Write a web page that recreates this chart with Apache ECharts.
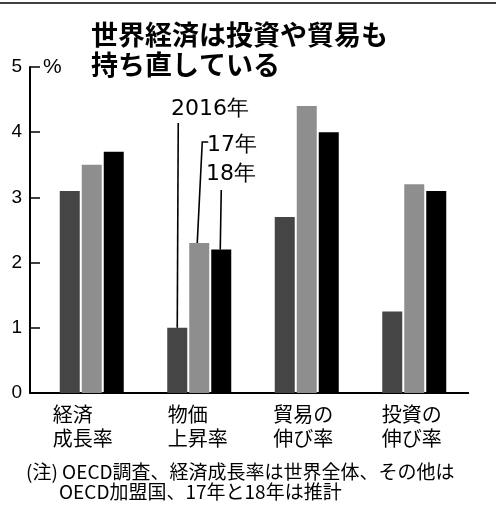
<!DOCTYPE html>
<html>
<head>
<meta charset="utf-8">
<script src="https://cdn.jsdelivr.net/npm/echarts@6/dist/echarts.min.js"></script>
<style>
  html, body { margin: 0; padding: 0; background: #fff; }
  #chart { width: 496px; height: 510px; }
</style>
</head>
<body>
<div id="chart"></div>
<script>
// Categories (two-line labels) and yearly growth rates, %
const categories = ['経済\n成長率', '物価\n上昇率', '貿易の\n伸び率', '投資の\n伸び率'];
const yearNames = ['2016年', '17年', '18年'];
const values2016 = [3.1, 1.0, 2.7, 1.25];
const values2017 = [3.5, 2.3, 4.4, 3.2];
const values2018 = [3.7, 2.2, 4.0, 3.1];
const yMin = 0;
const yMax = 5;
const yStep = 1;

const titleText = '世界経済は投資や貿易も\n持ち直している';
const noteLine1 = '(注) OECD調査、経済成長率は世界全体、その他は';
const noteLine2 = 'OECD加盟国、17年と18年は推計';

const JP = '"Noto Sans CJK JP", "Noto Sans", sans-serif';
const barWidth = 20;
const barStep = 22; // bar width plus the gap between neighbouring bars

const chart = echarts.init(document.getElementById('chart'), null, { renderer: 'canvas' });

// Per-category label shift (right padding moves the left-aligned block left)
const labelPad = [18, 3, 7, 5];
const rich = {};
labelPad.forEach((p, i) => {
  rich['c' + i] = {
    fontFamily: JP, fontSize: 20, lineHeight: 23.5, color: '#000',
    align: 'left', padding: [0, p, 0, 0]
  };
});

// Leader lines and year names pointing at the 物価上昇率 bars
function renderYearKeys(params, api) {
  const idx = 1;
  const p0 = api.coord([idx, values2016[idx]]);
  const p1 = api.coord([idx, values2017[idx]]);
  const p2 = api.coord([idx, values2018[idx]]);
  const x0 = p0[0] - barStep;
  const x1 = p1[0];
  const x2 = p2[0] + barStep;
  const line = { stroke: '#000', lineWidth: 1.6, fill: null };
  const font = { fill: '#000', fontFamily: '"DejaVu Sans", sans-serif', fontSize: 22, verticalAlign: 'middle', align: 'left' };
  return {
    type: 'group',
    children: [
      { type: 'polyline', shape: { points: [[x0, p0[1]], [x0 + 1, 123]] }, style: line },
      { type: 'polyline', shape: { points: [[x1 - 2, p1[1]], [x1 + 3, 142], [x1 + 9, 142]] }, style: line },
      { type: 'polyline', shape: { points: [[x2 - 1, p2[1]], [x2, 190]] }, style: line },
      { type: 'text', style: Object.assign({ text: yearNames[0], x: 171, y: 109 }, font) },
      { type: 'text', style: Object.assign({ text: yearNames[1], x: 207, y: 145 }, font) },
      { type: 'text', style: Object.assign({ text: yearNames[2], x: 206, y: 174 }, font) }
    ]
  };
}

const option = {
  animation: false,
  backgroundColor: '#fff',
  title: [
    {
      text: titleText, left: 91, top: 20, padding: 0,
      textStyle: { fontFamily: JP, fontSize: 27, fontWeight: 'bold', lineHeight: 30, color: '#000' }
    },
    {
      text: noteLine1, left: 26, top: 462, padding: 0,
      textStyle: { fontFamily: JP, fontSize: 19, fontWeight: 'normal', lineHeight: 20, color: '#000' }
    },
    {
      text: noteLine2, left: 59, top: 482, padding: 0,
      textStyle: { fontFamily: JP, fontSize: 19, fontWeight: 'normal', lineHeight: 20, color: '#000' }
    }
  ],
  graphic: [
    { type: 'line', shape: { x1: 0, y1: 3, x2: 496, y2: 3 }, style: { stroke: '#000', lineWidth: 1.5 } }
  ],
  grid: [
    { left: 38, right: 28, top: 67, height: 326 },
    { left: 30, right: 28, top: 67, height: 326 }
  ],
  xAxis: [
    {
      type: 'category', gridIndex: 0, data: categories,
      axisLine: { lineStyle: { color: '#000', width: 2 } },
      axisTick: { show: false },
      axisLabel: {
        interval: 0, margin: 10,
        formatter: (value, index) => value.split('\n').map(s => '{c' + index + '|' + s + '}').join('\n'),
        rich: rich
      }
    },
    {
      type: 'value', gridIndex: 1, min: 0, max: 1,
      axisLine: { show: true, onZero: false, lineStyle: { color: '#000', width: 2 } },
      axisTick: { show: false }, axisLabel: { show: false }, splitLine: { show: false }
    }
  ],
  yAxis: [
    {
      type: 'value', gridIndex: 0, min: yMin, max: yMax, interval: yStep, offset: 8,
      name: '%', nameLocation: 'end', nameGap: 0,
      nameTextStyle: {
        fontFamily: '"Liberation Sans", sans-serif', fontSize: 21, color: '#000',
        align: 'left', verticalAlign: 'middle', padding: [0, 0, 0, 13]
      },
      axisLine: { show: true, lineStyle: { color: '#000', width: 2 } },
      axisTick: { show: true, inside: true, length: 10, lineStyle: { color: '#000', width: 1.5 } },
      axisLabel: { margin: 8, fontFamily: '"Liberation Sans", sans-serif', fontSize: 19, color: '#000' },
      splitLine: { show: false }
    },
    { type: 'value', gridIndex: 1, show: false, min: 0, max: 1 }
  ],
  series: [
    {
      name: yearNames[0], type: 'bar', data: values2016, barWidth: barWidth, barGap: '10%',
      itemStyle: { color: '#454545' }
    },
    {
      name: yearNames[1], type: 'bar', data: values2017, barWidth: barWidth, barGap: '10%',
      itemStyle: { color: '#8e8e8e' }
    },
    {
      name: yearNames[2], type: 'bar', data: values2018, barWidth: barWidth, barGap: '10%',
      itemStyle: { color: '#000' }
    },
    {
      type: 'custom', xAxisIndex: 0, yAxisIndex: 0, silent: true, clip: false, z: 5,
      data: [[1, 0]], renderItem: renderYearKeys
    }
  ]
};

chart.setOption(option);
</script>
</body>
</html>
